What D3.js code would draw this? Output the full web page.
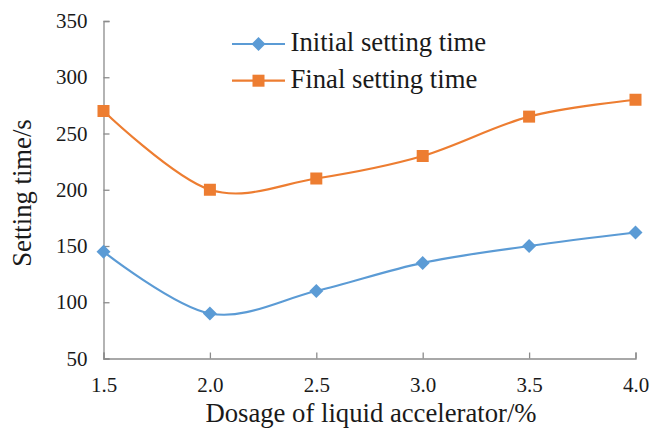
<!DOCTYPE html>
<html>
<head>
<meta charset="utf-8">
<script src="https://cdn.jsdelivr.net/npm/d3@7"></script>
<style>
  html, body { margin: 0; padding: 0; background: #fff; }
  text { font-family: "Liberation Serif", "Times New Roman", serif; fill: #1a1a1a; }
</style>
</head>
<body>
<svg id="chart" width="651" height="432"></svg>
<script>
// Dosage of liquid accelerator (%)
const dosage = [1.5, 2.0, 2.5, 3.0, 3.5, 4.0];
// Setting times (s)
const initialTime = [145, 90, 110, 135, 150, 162];
const finalTime = [270, 200, 210, 230, 265, 280];
const xTicks = [1.5, 2.0, 2.5, 3.0, 3.5, 4.0];
const yTicks = [50, 100, 150, 200, 250, 300, 350];
const seriesNames = ["Initial setting time", "Final setting time"];

const svg = d3.select("#chart");
const plot = { left: 103.5, right: 635.5, top: 21, bottom: 358.5 };

const x = d3.scaleLinear().domain([1.5, 4.0]).range([plot.left, plot.right]);
const y = d3.scaleLinear().domain([50, 350]).range([plot.bottom, plot.top]);

const axisColor = "#8c8c8c";
const serif = "Liberation Serif";

// Y axis (ticks point inward)
const yAxis = svg.append("g")
  .attr("transform", `translate(${plot.left},0)`)
  .call(d3.axisLeft(y).tickValues(yTicks).tickSize(-6).tickPadding(16).tickFormat(d3.format("d")));
yAxis.select(".domain").attr("stroke", axisColor).attr("stroke-width", 1.3);
yAxis.selectAll(".tick line").attr("stroke", axisColor).attr("stroke-width", 1.3);
yAxis.selectAll(".tick text").attr("font-size", 21).attr("font-family", serif).attr("fill", "#1a1a1a");

// X axis (ticks point inward)
const xAxis = svg.append("g")
  .attr("transform", `translate(0,${plot.bottom})`)
  .call(d3.axisBottom(x).tickValues(xTicks).tickSize(-6).tickPadding(19).tickFormat(d3.format(".1f")));
xAxis.select(".domain").attr("stroke", axisColor).attr("stroke-width", 1.3);
xAxis.selectAll(".tick line").attr("stroke", axisColor).attr("stroke-width", 1.3);
xAxis.selectAll(".tick text").attr("font-size", 21).attr("font-family", serif).attr("fill", "#1a1a1a");

// Axis titles
svg.append("text")
  .attr("x", 371).attr("y", 422)
  .attr("text-anchor", "middle")
  .attr("font-size", 26.7)
  .text("Dosage of liquid accelerator/%");

svg.append("text")
  .attr("transform", "translate(31,193) rotate(-90)")
  .attr("text-anchor", "middle")
  .attr("font-size", 26.7)
  .text("Setting time/s");

const line = d3.line()
  .x(d => x(d[0]))
  .y(d => y(d[1]))
  .curve(d3.curveCatmullRom.alpha(0));

const series = [
  { name: seriesNames[0], values: initialTime, color: "#5B9BD5", shape: "diamond" },
  { name: seriesNames[1], values: finalTime, color: "#ED7D31", shape: "square" }
];

function drawMarker(g, shape, color, cx, cy) {
  if (shape === "diamond") {
    const r = 7;
    g.append("path")
      .attr("d", `M${cx},${cy - r}L${cx + r},${cy}L${cx},${cy + r}L${cx - r},${cy}Z`)
      .attr("fill", color);
  } else {
    const s = 12;
    g.append("rect")
      .attr("x", cx - s / 2).attr("y", cy - s / 2)
      .attr("width", s).attr("height", s)
      .attr("fill", color);
  }
}

series.forEach(s => {
  const pts = dosage.map((d, i) => [d, s.values[i]]);
  svg.append("path")
    .attr("d", line(pts))
    .attr("fill", "none")
    .attr("stroke", s.color)
    .attr("stroke-width", 2.2);
  const g = svg.append("g");
  pts.forEach(p => drawMarker(g, s.shape, s.color, x(p[0]), y(p[1])));
});

// Legend
const legend = svg.append("g");
series.forEach((s, i) => {
  const ly = 44 + i * 36.7;
  legend.append("line")
    .attr("x1", 232).attr("x2", 285)
    .attr("y1", ly).attr("y2", ly)
    .attr("stroke", s.color).attr("stroke-width", 2.2);
  drawMarker(legend, s.shape, s.color, 258.5, ly);
  legend.append("text")
    .attr("x", 290.5).attr("y", ly + 7)
    .attr("font-size", 26.7)
    .text(s.name);
});
</script>
</body>
</html>
